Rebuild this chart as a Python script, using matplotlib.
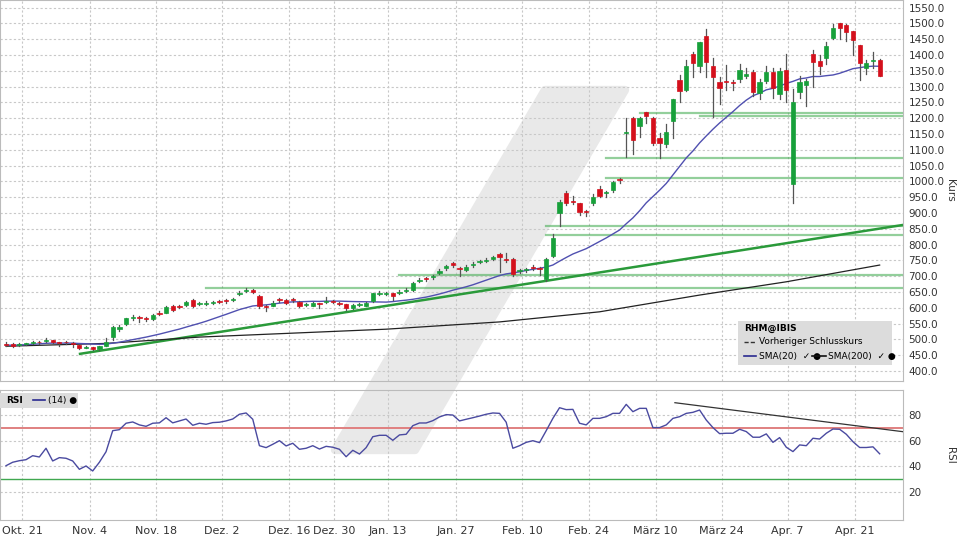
import numpy as np
import pandas as pd
import matplotlib
matplotlib.use("Agg")
import matplotlib.pyplot as plt
from matplotlib.patches import Polygon, Rectangle

# ---- data ----
opens = [486,484,481,485,489,492,494,497,489,492,489,482,474,476,468,480,508,532,548,568,
         570,566,563,583,584,605,606,610,624,611,613,615,619,622,623,644,652,655,637,606,
         606,627,625,626,619,608,606,614,617,621,616,611,600,608,606,620,643,644,646,647,
         653,656,684,694,696,710,727,740,727,720,735,744,749,754,770,753,753,715,718,730,
         725,691,764,900,963,938,931,906,932,977,964,972,1005,1152,1201,1175,1218,1200,1136,1117,
         1190,1321,1290,1404,1364,1460,1364,1313,1316,1313,1325,1334,1345,1279,1318,1347,1277,1352,993,1283,
         1305,1402,1380,1389,1454,1500,1495,1475,1431,1360,1382,1385]
closes = [482,480,484,486,491,490,499,492,488,490,485,474,477,468,478,492,538,540,566,572,
          566,563,578,580,602,594,603,618,605,614,615,617,618,620,626,647,656,651,605,602,
          616,623,616,624,606,612,616,611,620,618,613,600,608,612,614,645,647,647,638,651,
          657,678,688,691,700,715,731,736,724,730,738,748,752,760,760,750,707,718,722,726,
          722,753,820,935,932,936,903,902,951,954,966,999,1003,1156,1131,1201,1208,1120,1120,1155,
          1260,1286,1366,1375,1441,1377,1329,1297,1314,1311,1351,1340,1283,1314,1345,1297,1350,1288,1250,1313,
          1318,1377,1366,1428,1485,1484,1473,1446,1376,1376,1382,1335]
highs = [490,487,488,489,496,494,503,498,492,494,490,483,480,477,480,505,542,545,568,578,
         574,570,580,588,606,607,610,620,626,618,620,621,624,626,632,653,662,658,640,610,
         620,630,628,630,621,616,618,616,634,624,618,613,611,616,617,648,652,651,648,655,
         662,682,694,698,705,722,736,745,730,734,744,752,756,764,772,773,756,722,727,735,
         728,756,832,940,968,955,933,908,960,985,970,1002,1012,1200,1203,1205,1220,1203,1152,1180,
         1262,1338,1385,1410,1442,1483,1390,1330,1368,1320,1370,1360,1352,1325,1365,1358,1360,1403,1292,1332,
         1325,1417,1400,1440,1497,1502,1498,1475,1433,1385,1410,1388]
lows = [478,477,479,482,486,486,492,488,480,486,476,470,471,465,466,478,498,526,545,562,
        555,558,560,578,582,590,598,606,602,608,610,612,614,616,620,640,650,646,600,588,
        604,618,612,618,602,604,604,600,614,614,608,594,596,604,604,618,640,640,625,644,
        650,654,680,686,692,706,720,730,700,716,730,740,745,750,712,745,700,710,712,720,
        705,685,760,858,925,928,895,890,925,950,950,966,995,1078,1085,1140,1185,1115,1075,1110,
        1137,1250,1285,1330,1345,1330,1205,1245,1290,1288,1315,1328,1270,1260,1310,1265,1262,1250,930,1265,
        1237,1300,1340,1372,1450,1452,1445,1400,1320,1340,1360,1335]
rsi = [40.5,43.2,44.4,45.2,48.3,47.3,54.1,44.2,46.8,46.3,44.2,37.7,40.3,36.4,43.2,51.4,67.8,68.6,73.6,74.6,
       72.3,71.2,73.6,73.9,77.9,73.9,75.4,76.9,72.0,73.6,72.8,74.1,74.4,75.4,76.9,80.6,81.6,76.7,56.1,54.6,
       57.2,60.0,55.9,58.0,53.3,54.1,56.1,53.5,55.6,54.9,53.3,47.5,52.5,49.6,54.6,63.1,64.2,64.2,60.3,64.5,
       65.0,71.7,73.8,73.8,75.6,78.5,80.3,80.0,75.4,76.7,77.9,79.2,80.6,81.6,81.3,74.4,54.1,56.1,58.7,60.0,
       58.5,67.8,77.4,85.7,84.2,84.4,73.6,72.3,77.4,77.4,78.7,81.3,81.3,88.3,82.6,85.2,85.2,70.2,70.2,72.3,
       77.4,78.7,81.3,82.1,83.9,76.1,70.2,65.5,65.8,65.8,68.9,67.1,62.7,62.7,65.3,58.7,62.4,54.9,51.5,56.7,
       56.1,61.9,61.3,65.8,69.1,68.9,65.0,59.2,54.7,54.7,55.2,49.8]
sma200_idx = [0, 15, 29, 57, 74, 89, 104, 117, 131]
sma200_val = [478, 487, 507, 532, 555, 587, 640, 682, 735]
date_labels = ["Okt. 21", "Nov. 4", "Nov. 18", "Dez. 2", "Dez. 16", "Dez. 30", "Jan. 13",
               "Jan. 27", "Feb. 10", "Feb. 24", "März 10", "März 24", "Apr. 7", "Apr. 21"]
date_pos = [2.4, 12.6, 22.5, 32.4, 42.4, 49.2, 57.3, 67.5, 77.4, 87.4, 97.4, 107.3, 117.2, 127.3]
# support lines: (level, start index)
support_lvl = [662, 702, 830, 859, 1010, 1073, 1217, 1207]
support_start = [30, 59, 81, 81, 90, 90, 95, 104]
trend_x = [11.1, 134.5]
trend_y = [454, 862]
rsi_trend_x = [100.3, 134.5]
rsi_trend_y = [89.6, 67.0]

idx = np.arange(len(closes))
sma20 = pd.Series(closes).rolling(20, min_periods=1).mean()

W, H = 960, 540
fig = plt.figure(figsize=(9.6, 5.4), dpi=100)
fig.patch.set_facecolor("white")

# watermark (behind both panels)
wm = [(335, 450), (415, 450), (625, 90), (545, 90)]
fig.patches.append(Polygon([(x / W, 1 - y / H) for x, y in wm], closed=True,
                           transform=fig.transFigure, facecolor="#e9e9e9",
                           edgecolor="#e9e9e9", lw=6, joinstyle="round", zorder=-5))

xmin, xmax = -0.9, 134.5
ax = fig.add_axes([0, 1 - 381 / H, 903 / W, 381 / H])
ax2 = fig.add_axes([0, 1 - 520 / H, 903 / W, 130 / H])
for a in (ax, ax2):
    a.set_zorder(1)
    a.set_facecolor("none")
    a.set_xlim(xmin, xmax)
    a.yaxis.tick_right()
    a.tick_params(labelsize=8, colors="#333333", length=0, pad=5)
    a.tick_params(axis="y", labelsize=7.5, pad=4)
    for s in a.spines.values():
        s.set_color("#bbbbbb")
    a.set_xticks(date_pos)
    a.grid(True, color="#c8c8c8", linestyle=(0, (2, 2)), linewidth=0.8)
    a.set_axisbelow(True)

# price panel
ax.set_ylim(368, 1574)
ax.set_yticks(np.arange(400, 1551, 50))
ax.set_yticklabels([f"{v:.1f}" for v in np.arange(400, 1551, 50)])
ax.set_xticklabels([])
for lvl, st in zip(support_lvl, support_start):
    ax.plot([st, xmax], [lvl, lvl], color="#3aa84a", lw=1.6, alpha=0.55, zorder=2)
ax.plot(trend_x, trend_y, color="#2a9a3a", lw=1.8, zorder=2)
ax.plot(sma200_idx, sma200_val, color="#222222", lw=0.9, zorder=3)
ax.plot(idx, sma20, color="#5050b0", lw=1.0, zorder=3)
for i in idx:
    o, c, h, l = opens[i], closes[i], highs[i], lows[i]
    col = "#17a03a" if c >= o else "#d4101c"
    ax.plot([i, i], [l, h], color="#555555", lw=0.9, zorder=4)
    bh = max(abs(c - o), 3)
    ax.add_patch(Rectangle((i - 0.32, min(o, c)), 0.64, bh, facecolor=col,
                           edgecolor=col, lw=0.5, zorder=5))
fig.text(950 / W, 1 - 190 / H, "Kurs", rotation=270, ha="center", va="center",
         fontsize=7.5, color="#333333")

# legend box
lx0, ly0 = 738 / 903, 1 - 365 / 381
ax.add_patch(Rectangle((lx0, ly0), 154 / 903, 44 / 381, transform=ax.transAxes,
                       facecolor="#dcdcdc", edgecolor="none", zorder=6))
def ty(y):
    return 1 - y / 381
ax.text(744 / 903, ty(328), "RHM@IBIS", transform=ax.transAxes, fontsize=6.5,
        fontweight="bold", va="center", zorder=7)
ax.plot([744 / 903, 756 / 903], [ty(342)] * 2, transform=ax.transAxes,
        color="#333333", lw=1, ls=(0, (3, 1.5)), zorder=7)
ax.text(759 / 903, ty(342), "Vorheriger Schlusskurs", transform=ax.transAxes,
        fontsize=6.5, va="center", zorder=7)
ax.plot([744 / 903, 756 / 903], [ty(356)] * 2, transform=ax.transAxes,
        color="#2a2a90", lw=1.2, zorder=7)
ax.text(759 / 903, ty(356), "SMA(20)  \u2713 \u25CF", transform=ax.transAxes,
        fontsize=6.5, va="center", zorder=7)
ax.plot([812 / 903, 826 / 903], [ty(356)] * 2, transform=ax.transAxes,
        color="#111111", lw=1.2, zorder=7)
ax.text(828 / 903, ty(356), "SMA(200)  \u2713 \u25CF", transform=ax.transAxes,
        fontsize=6.5, va="center", zorder=7)

# RSI panel
ax2.set_ylim(-1.8, 99.5)
ax2.set_yticks([20, 40, 60, 80])
ax2.set_xticklabels(date_labels)
ax2.tick_params(axis="x", pad=4)
ax2.axhline(70, color="#e08080", lw=1.4, zorder=2)
ax2.axhline(30, color="#40a850", lw=1.0, zorder=2)
ax2.plot(rsi_trend_x, rsi_trend_y, color="#333333", lw=0.9, zorder=3)
ax2.plot(idx, rsi, color="#4a4aa0", lw=1.0, zorder=4)
ax2.add_patch(Rectangle((0, 0.86), 78 / 903, 0.12, transform=ax2.transAxes,
                        facecolor="#dcdcdc", edgecolor="none", zorder=5))
ax2.text(6 / 903, 0.92, "RSI", transform=ax2.transAxes, fontsize=6.5,
         fontweight="bold", va="center", zorder=6)
ax2.plot([33 / 903, 45 / 903], [0.92, 0.92], transform=ax2.transAxes,
         color="#2a2a90", lw=1.2, zorder=6)
ax2.text(48 / 903, 0.92, "(14) \u25CF", transform=ax2.transAxes, fontsize=6.5,
         va="center", zorder=6)
fig.text(950 / W, 1 - 455 / H, "RSI", rotation=270, ha="center", va="center",
         fontsize=7.5, color="#333333")

fig.savefig("out.png", dpi=100)
